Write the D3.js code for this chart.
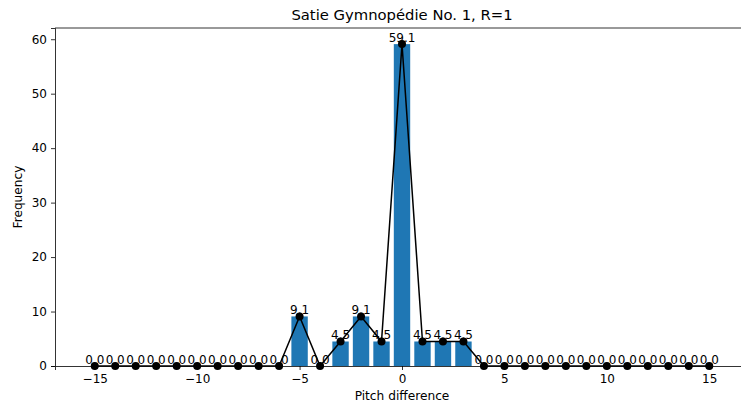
<!DOCTYPE html>
<html>
<head>
<meta charset="utf-8">
<script src="https://cdn.jsdelivr.net/npm/d3@7"></script>
<style>
  html, body { margin: 0; padding: 0; background: #fff; }
  svg { display: block; }
  text { font-family: "DejaVu Sans", sans-serif; fill: #000; }
</style>
</head>
<body>
<svg id="chart" width="741" height="407"></svg>
<script>
// Pitch differences between consecutive notes and their relative frequency (%)
const pitchDiffs = d3.range(-15, 16);
const nonZero = { "-5": 9.1, "-3": 4.5, "-2": 9.1, "-1": 4.5, "0": 59.1, "1": 4.5, "2": 4.5, "3": 4.5 };
const frequencies = pitchDiffs.map(d => nonZero[String(d)] ?? 0.0);
const xTicks = [-15, -10, -5, 0, 5, 10, 15];
const yTicks = [0, 10, 20, 30, 40, 50, 60];
const titleText = "Satie Gymnopédie No. 1, R=1";

const svg = d3.select("#chart");
const margin = { left: 55, right: -8, top: 28, bottom: 41 };
const W = 741, H = 407;

const x = d3.scaleLinear().domain([-16.94, 16.94]).range([margin.left, W - margin.right]);
const y = d3.scaleLinear().domain([0, 62.06]).range([H - margin.bottom, margin.top]);

const data = pitchDiffs.map((p, i) => ({ p, v: frequencies[i] }));
const barW = x(0.4) - x(-0.4);

// Bars
svg.append("g").selectAll("rect").data(data).join("rect")
  .attr("x", d => x(d.p) - barW / 2)
  .attr("y", d => y(d.v))
  .attr("width", barW)
  .attr("height", d => y(0) - y(d.v))
  .attr("fill", "#1f77b4");

// Line with markers
svg.append("path").datum(data)
  .attr("d", d3.line().x(d => x(d.p)).y(d => y(d.v)))
  .attr("fill", "none").attr("stroke", "#000").attr("stroke-width", 1.5);

svg.append("g").selectAll("circle").data(data).join("circle")
  .attr("cx", d => x(d.p)).attr("cy", d => y(d.v)).attr("r", 4)
  .attr("fill", "#000");

// Value labels
svg.append("g").selectAll("text").data(data).join("text")
  .attr("x", d => x(d.p)).attr("y", d => y(d.v) - 2)
  .attr("text-anchor", "middle").attr("font-size", 12)
  .text(d => d.v.toFixed(1));

// Axes
const fmt = d => d < 0 ? "\u2212" + Math.abs(d) : String(d);
const xAxis = svg.append("g").attr("transform", `translate(0,${y(0)})`)
  .call(d3.axisBottom(x).tickValues(xTicks).tickFormat(fmt).tickSizeOuter(0).tickSize(4).tickPadding(4));
const yAxis = svg.append("g").attr("transform", `translate(${margin.left},0)`)
  .call(d3.axisLeft(y).tickValues(yTicks).tickSizeOuter(0).tickSize(4).tickPadding(4));
[xAxis, yAxis].forEach(a => {
  a.selectAll("text").attr("font-size", 12).attr("fill", "#000").attr("font-family", "DejaVu Sans, sans-serif");
  a.selectAll("line").attr("stroke", "#000").attr("stroke-width", 0.8);
  a.select(".domain").attr("stroke", "#000").attr("stroke-width", 0.8);
});

// Frame top and right
svg.append("line").attr("x1", margin.left).attr("x2", W - margin.right)
  .attr("y1", y(62.06)).attr("y2", y(62.06)).attr("stroke", "#000").attr("stroke-width", 0.8);
svg.append("line").attr("x1", W - margin.right).attr("x2", W - margin.right)
  .attr("y1", y(62.06)).attr("y2", y(0)).attr("stroke", "#000").attr("stroke-width", 0.8);

// Title and axis labels
svg.append("text").attr("x", x(0)).attr("y", 20).attr("text-anchor", "middle")
  .attr("font-size", 14.8).text(titleText);
svg.append("text").attr("x", x(0)).attr("y", 400).attr("text-anchor", "middle")
  .attr("font-size", 12.2).text("Pitch difference");
svg.append("text").attr("transform", `translate(22,${(y(0) + y(62.06)) / 2}) rotate(-90)`)
  .attr("text-anchor", "middle").attr("font-size", 12.2).text("Frequency");
</script>
</body>
</html>
